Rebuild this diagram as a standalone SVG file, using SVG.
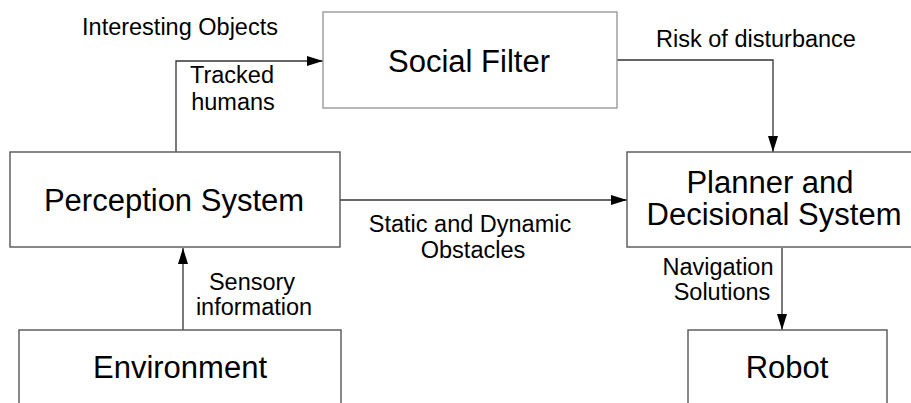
<svg xmlns="http://www.w3.org/2000/svg" width="911" height="403" viewBox="0 0 911 403">
<style>
.box{fill:#fff;stroke:#555;stroke-width:1.4}
.box2{fill:#fff;stroke:#999;stroke-width:1.4}
.nl{font-family:"Liberation Sans",Arial,sans-serif;font-size:31px;fill:#000;text-anchor:middle}
.el{font-family:"Liberation Sans",Arial,sans-serif;font-size:23.5px;fill:#000;text-anchor:middle}
.conn{fill:none;stroke:#333;stroke-width:1.3}
</style>
<defs>
<marker id="arr" viewBox="0 0 16 10" refX="16" refY="5" markerWidth="16" markerHeight="10" markerUnits="userSpaceOnUse" orient="auto">
<path d="M0,0 L16,5 L0,10 Z" fill="#000"/>
</marker>
</defs>
<rect width="911" height="403" fill="#fff"/>
<g id="connectors">
<path class="conn" d="M176,152 V61 H323" marker-end="url(#arr)"/>
<path class="conn" d="M617,60 H773 V152" marker-end="url(#arr)"/>
<path class="conn" d="M340,200 H627" marker-end="url(#arr)"/>
<path class="conn" d="M183,330 V248" marker-end="url(#arr)"/>
<path class="conn" d="M782,248 V330" marker-end="url(#arr)"/>
<text class="el" x="180" y="35">Interesting Objects</text>
<text class="el" x="232" y="83">Tracked</text>
<text class="el" x="233" y="110">humans</text>
<text class="el" x="756" y="47">Risk of disturbance</text>
<text class="el" x="470" y="232">Static and Dynamic</text>
<text class="el" x="473" y="258">Obstacles</text>
<text class="el" x="252" y="290">Sensory</text>
<text class="el" x="254" y="315">information</text>
<text class="el" x="718" y="275">Navigation</text>
<text class="el" x="722" y="300">Solutions</text>
</g>
<g id="social-filter">
<rect class="box2" x="323" y="12" width="294" height="96"/>
<text class="nl" x="469" y="72">Social Filter</text>
</g>
<g id="perception">
<rect class="box" x="10" y="152" width="330" height="95"/>
<text class="nl" x="174" y="211">Perception System</text>
</g>
<g id="planner">
<rect class="box" x="627" y="152" width="300" height="95"/>
<text class="nl" x="770" y="193">Planner and</text>
<text class="nl" x="774" y="225">Decisional System</text>
</g>
<g id="environment">
<rect class="box" x="19" y="330" width="322" height="100"/>
<text class="nl" x="180" y="378">Environment</text>
</g>
<g id="robot">
<rect class="box" x="688" y="330" width="199" height="100"/>
<text class="nl" x="787" y="378">Robot</text>
</g>
</svg>
